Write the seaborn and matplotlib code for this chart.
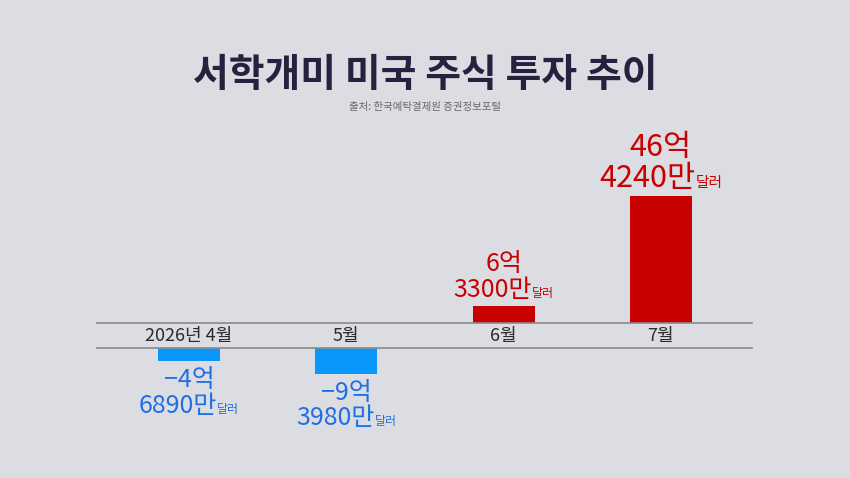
import seaborn as sns
import pandas as pd
import matplotlib.pyplot as plt

# 서학개미 월별 미국 주식 순매수 (단위: 만 달러)
months = ['2026년 4월', '5월', '6월', '7월']
net_buy = [-46890, -93980, 63300, 464240]
eok_labels = ['−4억', '−9억', '6억', '46억']
man_labels = ['6890만', '3980만', '3300만', '4240만']
unit_label = '달러'

title = '서학개미 미국 주식 투자 추이'
source = '출처: 한국예탁결제원 증권정보포털'

BG = '#dcdce3'
BAR_RED = '#c80000'
BAR_BLUE = '#0a97fb'
TXT_RED = '#c80000'
TXT_BLUE = '#1f6fe5'
LINE = '#8a8a8a'
label_sizes = [18, 18, 18, 22]

df = pd.DataFrame({'month': months, 'value': net_buy})
bar_colors = [BAR_BLUE if v < 0 else BAR_RED for v in net_buy]

sns.set_theme(style='white')
plt.rcParams['font.family'] = ['Noto Sans CJK KR', 'DejaVu Sans']

fig = plt.figure(figsize=(8.5, 4.78), dpi=100, facecolor=BG)
# 양수 영역과 음수 영역 사이에 월 라벨 띠를 두기 위해 축을 둘로 나눔
ax_top = fig.add_axes([0.1141, 0.3243, 0.7706, 0.3619])
ax_bot = fig.add_axes([0.1141, 0.0795, 0.7706, 0.1925])

for ax in (ax_top, ax_bot):
    sns.barplot(
        data=df, x='month', y='value', hue='month', palette=bar_colors,
        width=0.394, saturation=1, legend=False, linewidth=0, ax=ax
    )
    ax.set_xlim(-0.585, 3.579)
    ax.set_facecolor('none')
    ax.set_xticks([])
    ax.set_yticks([])
    ax.set_xlabel('')
    ax.set_ylabel('')
    for s in ax.spines.values():
        s.set_visible(False)

ax_top.set_ylim(0, 632300)
ax_bot.set_ylim(-336300, 0)
ax_top.spines['bottom'].set_visible(True)
ax_top.spines['bottom'].set_color(LINE)
ax_top.spines['bottom'].set_linewidth(1.2)
ax_bot.spines['top'].set_visible(True)
ax_bot.spines['top'].set_color(LINE)
ax_bot.spines['top'].set_linewidth(1.2)

renderer = fig.canvas.get_renderer()


def text_width(s, size):
    t = fig.text(0, 0, s, fontsize=size, fontweight='medium')
    w = t.get_window_extent(renderer).width
    t.remove()
    return w


PX = 0.72  # px -> pt at 100 dpi

for i, v in enumerate(net_buy):
    size = label_sizes[i]
    usize = size * 0.48
    if v >= 0:
        ax, color = ax_top, TXT_RED
        y2 = 8.5 * PX
        y1 = y2 + size * 1.03
    else:
        ax, color = ax_bot, TXT_BLUE
        y1 = -26 * PX
        y2 = y1 - size * 1.03
    ax.annotate(eok_labels[i], xy=(i, v), xytext=(0, y1),
                textcoords='offset points', ha='center', va='baseline',
                fontsize=size, fontweight='medium', color=color,
                annotation_clip=False)
    w1 = text_width(man_labels[i], size)
    w2 = text_width(unit_label, usize)
    dx = (w1 - w2) / 2 * PX
    ax.annotate(man_labels[i], xy=(i, v), xytext=(dx, y2),
                textcoords='offset points', ha='right', va='baseline',
                fontsize=size, fontweight='medium', color=color,
                annotation_clip=False)
    ax.annotate(unit_label, xy=(i, v), xytext=(dx, y2),
                textcoords='offset points', ha='left', va='baseline',
                fontsize=usize, fontweight='medium', color=color,
                annotation_clip=False)
    ax_top.annotate(months[i], xy=(i, 0), xytext=(0, -13 * PX),
                    textcoords='offset points', ha='center', va='center',
                    fontsize=13, color='#2b2b2b', annotation_clip=False)

fig.text(0.5, 0.843, title, ha='center', va='center', fontsize=28,
         fontweight='black', color='#25223f')
fig.text(0.5, 0.776, source, ha='center', va='center', fontsize=7.5,
         color='#6a6a6a')

fig.savefig('out.png', dpi=100, facecolor=BG)
